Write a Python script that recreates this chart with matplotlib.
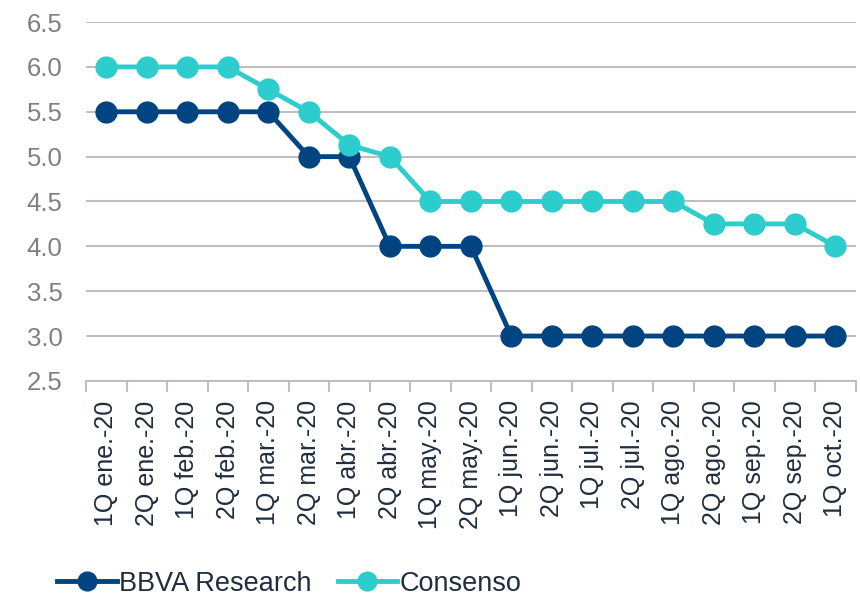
import numpy as np
import matplotlib.pyplot as plt

plt.rcParams['font.family'] = ['Liberation Sans', 'DejaVu Sans']

# Quincenas
categories = ['1Q ene.-20', '2Q ene.-20', '1Q feb.-20', '2Q feb.-20', '1Q mar.-20',
              '2Q mar.-20', '1Q abr.-20', '2Q abr.-20', '1Q may.-20', '2Q may.-20',
              '1Q jun.-20', '2Q jun.-20', '1Q jul.-20', '2Q jul.-20', '1Q ago.-20',
              '2Q ago.-20', '1Q sep.-20', '2Q sep.-20', '1Q oct.-20']
bbva = [5.5, 5.5, 5.5, 5.5, 5.5, 5.0, 5.0, 4.0, 4.0, 4.0,
        3.0, 3.0, 3.0, 3.0, 3.0, 3.0, 3.0, 3.0, 3.0]
consenso = [6.0, 6.0, 6.0, 6.0, 5.75, 5.5, 5.13, 5.0, 4.5, 4.5,
            4.5, 4.5, 4.5, 4.5, 4.5, 4.25, 4.25, 4.25, 4.0]
yticks = [2.5, 3.0, 3.5, 4.0, 4.5, 5.0, 5.5, 6.0, 6.5]

navy = '#004481'
teal = '#2DCCCD'
grid_c = '#BFBFBF'

fig = plt.figure(figsize=(8.6, 5.97), dpi=100)
ax = fig.add_axes([0.1, 0.362, 0.895, 0.601])

x = np.arange(len(categories))
ax.plot(x, bbva, '-o', color=navy, lw=3.5, ms=15, label='BBVA Research', zorder=3)
ax.plot(x, consenso, '-o', color=teal, lw=3.5, ms=15, label='Consenso', zorder=4)

ax.set_xlim(-0.5, len(categories) - 0.5)
ax.set_ylim(2.5, 6.5)
ax.set_yticks(yticks)
ax.set_yticklabels([f'{v:.1f}' for v in yticks], fontsize=18.5, color='#808080')
ax.yaxis.grid(True, color=grid_c, lw=1.5)
ax.set_axisbelow(True)
ax.tick_params(axis='y', length=0, pad=17)

# category labels centred, ticks on the boundaries
ax.set_xticks(x)
ax.set_xticklabels(categories, rotation=90, fontsize=18, color='#1F2D3D')
ax.tick_params(axis='x', which='major', length=0, pad=14)
ax.set_xticks(np.arange(-0.5, len(categories)), minor=True)
ax.tick_params(axis='x', which='minor', length=8, width=1.5, color=grid_c)

for s in ['top', 'right', 'left']:
    ax.spines[s].set_visible(False)
ax.spines['bottom'].set_color(grid_c)
ax.spines['bottom'].set_linewidth(1.5)

leg = fig.legend(loc='lower left', bbox_to_anchor=(0.038, -0.04), ncol=2, frameon=False,
                 fontsize=19.5, handlelength=2.2, columnspacing=0.95, handletextpad=0.1,
                 markerscale=0.9)
for t in leg.get_texts():
    t.set_color('#1F2D3D')

fig.savefig('out.png', dpi=100)
